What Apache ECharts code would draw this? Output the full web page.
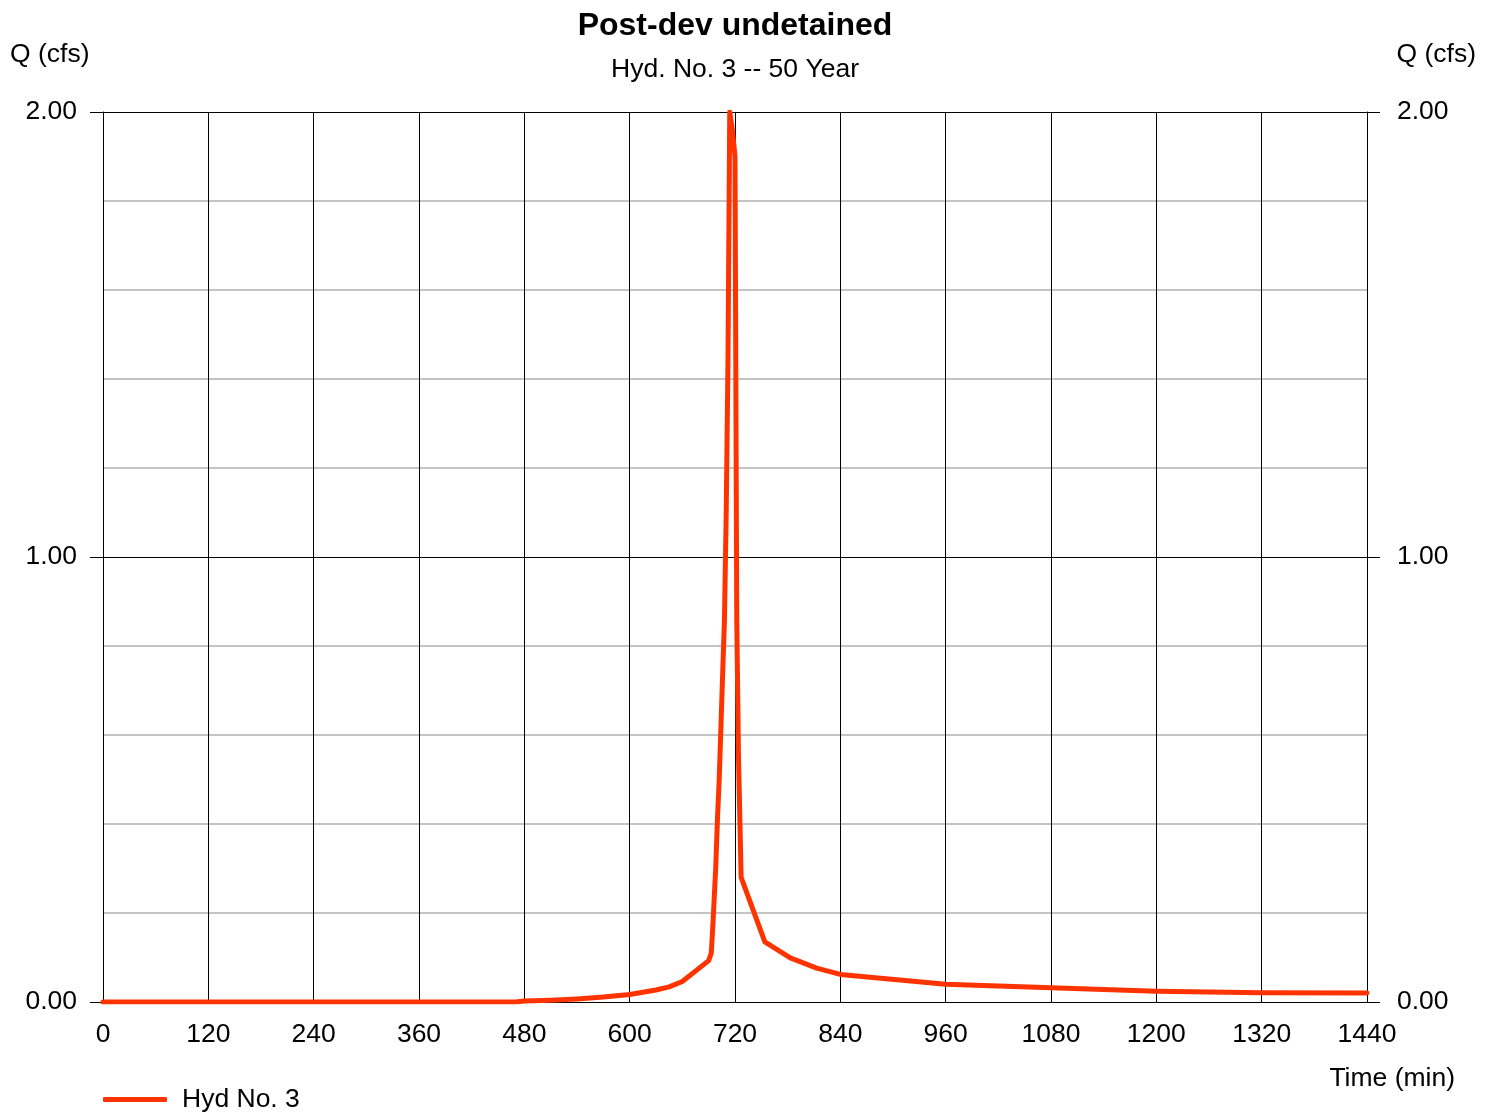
<!DOCTYPE html>
<html>
<head>
<meta charset="utf-8">
<script src="https://cdn.jsdelivr.net/npm/echarts@6/dist/echarts.min.js"></script>
<style>
html,body{margin:0;padding:0;background:#fff;}
#chart{width:1494px;height:1112px;}
</style>
</head>
<body>
<div id="chart"></div>
<script>
// Hydrograph values
const timeMin = [0, 470, 480, 510, 540, 570, 600, 630, 645, 660, 690, 693, 695, 698, 700, 702, 704, 706, 708, 710, 712, 714, 717, 720, 722, 724, 727, 754, 783, 813, 840, 960, 1080, 1200, 1320, 1440];
const flowCfs = [0, 0, 0.002, 0.004, 0.007, 0.011, 0.017, 0.027, 0.034, 0.046, 0.093, 0.11, 0.18, 0.30, 0.41, 0.50, 0.62, 0.74, 0.86, 1.10, 1.44, 2.00, 1.96, 1.90, 0.86, 0.55, 0.28, 0.135, 0.099, 0.076, 0.062, 0.040, 0.032, 0.024, 0.021, 0.020];
const seriesName = 'Hyd No. 3';
const titleText = 'Post-dev undetained';
const subtitleText = 'Hyd. No. 3 -- 50 Year';
const yAxisTitle = 'Q (cfs)';
const xAxisTitle = 'Time (min)';

const FONT = "'Liberation Sans', Arial, sans-serif";
const FS = 26.5;
const RED = '#ff3300';

const chart = echarts.init(document.getElementById('chart'), null, {renderer: 'canvas'});
const data = timeMin.map((t, i) => [t, flowCfs[i]]);

chart.setOption({
  animation: false,
  backgroundColor: '#fff',
  textStyle: {fontFamily: FONT},
  graphic: [
    {type: 'text', x: 735, y: 26, style: {text: titleText, font: 'bold 32px ' + FONT, fill: '#000', align: 'center', verticalAlign: 'middle'}},
    {type: 'text', x: 735, y: 70, style: {text: subtitleText, font: FS + 'px ' + FONT, fill: '#000', align: 'center', verticalAlign: 'middle'}},
    {type: 'text', x: 10, y: 55, style: {text: yAxisTitle, font: FS + 'px ' + FONT, fill: '#000', align: 'left', verticalAlign: 'middle'}},
    {type: 'text', x: 1476, y: 55, style: {text: yAxisTitle, font: FS + 'px ' + FONT, fill: '#000', align: 'right', verticalAlign: 'middle'}},
    {type: 'text', x: 1455, y: 1079, style: {text: xAxisTitle, font: FS + 'px ' + FONT, fill: '#000', align: 'right', verticalAlign: 'middle'}}
  ],
  legend: {
    left: 98, top: 1081,
    itemWidth: 64, itemHeight: 5, icon: 'roundRect', itemGap: 10,
    textStyle: {fontFamily: FONT, fontSize: FS, color: '#000', padding: [0, 0, 0, 10]},
    data: [seriesName]
  },
  grid: {left: 103, right: 127, top: 112, bottom: 110, containLabel: false},
  xAxis: {
    type: 'value', min: 0, max: 1440, interval: 120,
    axisLine: {show: true, lineStyle: {color: '#000', width: 1}},
    axisTick: {show: false},
    axisLabel: {fontFamily: FONT, fontSize: FS, color: '#000', margin: 19, formatter: v => String(v)},
    splitLine: {show: true, lineStyle: {color: '#000', width: 1}}
  },
  yAxis: [
    {
      type: 'value', min: 0, max: 2, interval: 0.2, position: 'left',
      axisLine: {show: false}, axisTick: {show: false}, axisLabel: {show: false},
      splitLine: {show: true, lineStyle: {color: ['transparent', '#c4c4c4', '#c4c4c4', '#c4c4c4', '#c4c4c4'], width: 2}}
    },
    {
      type: 'value', min: 0, max: 2, interval: 1, position: 'left',
      axisLine: {show: true, lineStyle: {color: '#000', width: 1}},
      axisTick: {show: true, length: 13, lineStyle: {color: '#000', width: 1}},
      axisLabel: {fontFamily: FONT, fontSize: FS, color: '#000', margin: 26,
                  formatter: v => v.toFixed(2)},
      splitLine: {show: true, lineStyle: {color: '#000', width: 1}}
    },
    {
      type: 'value', min: 0, max: 2, interval: 1, position: 'right',
      axisLine: {show: true, lineStyle: {color: '#000', width: 1}},
      axisTick: {show: true, length: 13, lineStyle: {color: '#000', width: 1}},
      axisLabel: {fontFamily: FONT, fontSize: FS, color: '#000', margin: 30,
                  formatter: v => v.toFixed(2)},
      splitLine: {show: false}
    }
  ],
  series: [{
    name: seriesName, type: 'line', yAxisIndex: 1,
    data: data, showSymbol: false, smooth: false,
    lineStyle: {color: RED, width: 5, cap: 'round', join: 'round'},
    itemStyle: {color: RED},
    z: 5
  }]
});
</script>
</body>
</html>
